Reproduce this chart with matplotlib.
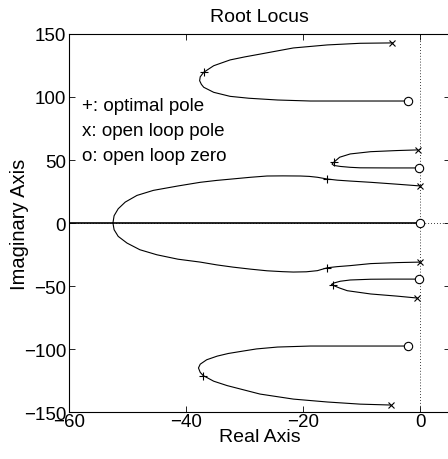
import matplotlib
matplotlib.use("Agg")
import matplotlib.pyplot as plt

plt.rcParams['font.family'] = ['Liberation Sans', 'DejaVu Sans']

# Open loop poles (x), zeros (o), optimal poles (+)
pole_re = [-4.8, -0.5, 0.0, 0.0, -0.6, -5.1]
pole_im = [142.9, 58.0, 29.4, -31.0, -59.5, -144.4]
zero_re = [-2.2, -0.3, 0.0, -0.3, -2.2]
zero_im = [96.8, 43.7, 0.0, -44.5, -97.6]
opt_re = [-37.0, -14.8, -15.9, -15.9, -14.9, -37.1]
opt_im = [119.6, 48.2, 34.9, -35.5, -49.5, -121.0]

# Locus branches
top_re = [-4.8, -10.3, -15.9, -21.7, -27.4, -30.0, -32.5, -35.3, -37.0, -37.6, -37.7,
          -37.4, -37.0, -35.3, -32.5, -29.3, -24.4, -18.8, -13.2, -7.4, -2.2]
top_im = [142.9, 142.6, 141.3, 138.9, 134.0, 131.8, 129.4, 124.8, 119.6, 116.0, 112.9,
          110.0, 107.7, 103.7, 100.5, 99.0, 97.6, 96.8, 96.8, 96.8, 96.8]
bot_re = [-2.2, -10.3, -18.8, -24.4, -28.0, -30.3, -32.8, -34.7, -36.5, -37.6, -37.9,
          -37.6, -37.1, -35.3, -33.0, -27.4, -21.7, -15.9, -10.3, -5.1]
bot_im = [-97.6, -97.6, -97.6, -98.4, -99.9, -101.6, -103.5, -105.6, -108.5, -112.0, -115.0,
          -118.5, -121.0, -125.5, -129.0, -135.7, -139.7, -142.0, -143.7, -144.4]
smu_re = [-0.5, -4.0, -8.5, -12.0, -13.8, -14.8, -15.1, -14.8, -13.7, -12.0, -10.3,
          -5.1, -0.3]
smu_im = [58.0, 57.5, 56.6, 54.8, 52.2, 48.2, 46.8, 45.7, 44.9, 44.2, 43.8,
          43.7, 43.7]
sml_re = [-0.3, -5.1, -8.5, -12.0, -13.7, -14.8, -15.2, -14.9, -13.8, -12.5, -8.5,
          -4.0, -0.6]
sml_im = [-44.5, -44.5, -44.6, -45.2, -46.2, -47.6, -48.7, -49.5, -51.6, -53.7, -56.3,
          -58.0, -59.5]
mu_re = [0.0, -4.0, -8.5, -12.0, -14.2, -15.9, -17.6, -19.0, -20.5, -23.5, -26.2,
         -29.0, -32.0, -34.8, -37.6, -41.4, -45.6, -48.4, -50.4, -51.6, -52.3, -52.5]
mu_im = [29.4, 30.8, 32.3, 33.3, 34.0, 34.9, 36.3, 37.0, 37.3, 37.4, 37.3,
         36.3, 35.0, 33.8, 32.3, 29.4, 25.9, 21.9, 16.6, 11.3, 5.8, 0.0]
ml_re = [-52.5, -52.3, -51.6, -50.1, -47.9, -45.0, -41.4, -37.6, -34.8, -32.0, -29.0,
         -26.2, -23.5, -21.7, -19.5, -17.6, -15.9, -14.2, -12.0, -8.5, -4.0, 0.0]
ml_im = [0.0, -5.3, -10.6, -15.9, -21.2, -25.2, -28.7, -31.0, -33.2, -35.0, -36.6,
         -37.9, -38.6, -38.9, -38.7, -37.8, -35.5, -34.6, -33.8, -32.2, -31.4, -31.0]
real_re = [-60.0, 0.0]
real_im = [0.0, 0.0]

legend_lines = ["+: optimal pole", "x: open loop pole", "o: open loop zero"]
legend_y = [92.9, 73.8, 53.2]

xticks = [-60, -40, -20, 0]
yticks = [-150, -100, -50, 0, 50, 100, 150]

fig = plt.figure(figsize=(4.48, 4.60), dpi=100)
ax = fig.add_axes([0.154, 0.102, 0.85, 0.822])

ax.axvline(0, color='black', linestyle=':', linewidth=0.6, dashes=(1, 2.5))
ax.axhline(0, color='black', linestyle=':', linewidth=0.6, dashes=(1, 2.5))

lw = 0.8
for xs, ys in [(top_re, top_im), (bot_re, bot_im), (smu_re, smu_im), (sml_re, sml_im),
               (mu_re, mu_im), (ml_re, ml_im)]:
    ax.plot(xs, ys, color='black', linewidth=lw, solid_joinstyle='round')
ax.plot(real_re, real_im, color='black', linewidth=1.2)

ax.plot(pole_re, pole_im, linestyle='none', marker='x', color='black',
        markersize=5, markeredgewidth=0.8)
ax.plot(zero_re, zero_im, linestyle='none', marker='o', markerfacecolor='white',
        markeredgecolor='black', markersize=6, markeredgewidth=0.8)
ax.plot(opt_re, opt_im, linestyle='none', marker='+', color='black',
        markersize=6, markeredgewidth=0.8)

for t, y in zip(legend_lines, legend_y):
    ax.text(-57.8, y, t, fontsize=13.5, va='center', ha='left')

ax.set_xlim(-60, 5)
ax.set_ylim(-150, 150)
ax.set_xticks(xticks)
ax.set_yticks(yticks)
ax.tick_params(direction='in', length=4, width=0.6, top=True, right=True,
               labelsize=13.5)
ax.tick_params(axis='x', pad=1)
ax.tick_params(axis='y', pad=2)
for s in ax.spines.values():
    s.set_linewidth(0.8)

ax.set_title("Root Locus", fontsize=14, pad=9)
ax.set_xlabel("Real Axis", fontsize=14, labelpad=-2)
ax.set_ylabel("Imaginary Axis", fontsize=14.5, labelpad=-4)

fig.savefig("out.png", dpi=100)
